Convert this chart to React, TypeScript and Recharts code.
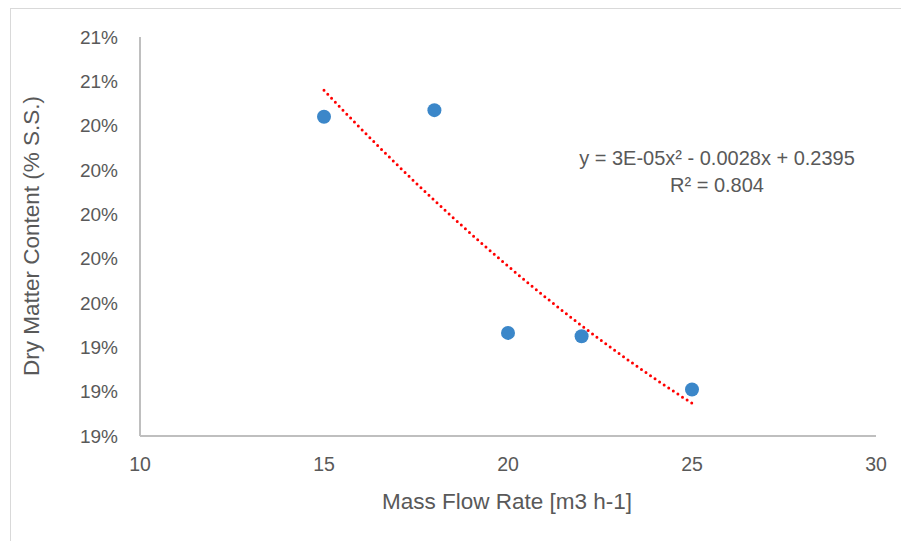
import React from 'react';
import { ComposedChart, Scatter, Line, XAxis, YAxis } from 'recharts';

const flowRates = [15, 18, 20, 22, 25];
const dryMatter = [0.2044, 0.2047, 0.19465, 0.1945, 0.1921];
const xTicks = [10, 15, 20, 25, 30];
const yTicks = [0.19, 0.192, 0.194, 0.196, 0.198, 0.2, 0.202, 0.204, 0.206, 0.208];

const points = flowRates.map((x, i) => ({ x, y: dryMatter[i] }));

// 2nd order least squares fit, like the Excel trendline
const fitPoly2 = (xs: number[], ys: number[]) => {
  const n = xs.length;
  const mx = xs.reduce((a, b) => a + b, 0) / n;
  const u = xs.map((x) => x - mx);
  const s2 = u.reduce((a, v) => a + v * v, 0);
  const s3 = u.reduce((a, v) => a + v * v * v, 0);
  const s4 = u.reduce((a, v) => a + v ** 4, 0);
  const sy = ys.reduce((a, b) => a + b, 0);
  const suy = u.reduce((a, v, i) => a + v * ys[i], 0);
  const su2y = u.reduce((a, v, i) => a + v * v * ys[i], 0);
  // solve 3x3 normal equations (s1 = 0)
  const M = [
    [n, 0, s2, sy],
    [0, s2, s3, suy],
    [s2, s3, s4, su2y],
  ];
  for (let c = 0; c < 3; c++) {
    for (let r = c + 1; r < 3; r++) {
      const f = M[r][c] / M[c][c];
      for (let k = c; k < 4; k++) M[r][k] -= f * M[c][k];
    }
  }
  const coef = [0, 0, 0];
  for (let r = 2; r >= 0; r--) {
    let s = M[r][3];
    for (let k = r + 1; k < 3; k++) s -= M[r][k] * coef[k];
    coef[r] = s / M[r][r];
  }
  return (x: number) => coef[0] + coef[1] * (x - mx) + coef[2] * (x - mx) ** 2;
};

const fit = fitPoly2(flowRates, dryMatter);
const trend: { x: number; y: number }[] = [];
for (let x = flowRates[0]; x <= flowRates[flowRates.length - 1] + 1e-9; x += 0.25) {
  trend.push({ x, y: fit(x) });
}

const font = '"Liberation Sans", Arial, sans-serif';
const textColor = '#595959';
const axisColor = '#bfbfbf';

export default function App() {
  return (
    <div
      style={{
        position: 'absolute',
        left: 0,
        top: 0,
        width: 901,
        height: 541,
        overflow: 'hidden',
        background: '#fff',
        fontFamily: font,
      }}
    >
      <div
        style={{
          position: 'absolute',
          left: 10,
          top: 8,
          width: 1000,
          height: 1000,
          border: '1.5px solid #d9d9d9',
        }}
      />
      <div style={{ position: 'absolute', left: 0, top: 0 }}>
        <ComposedChart
          width={901}
          height={541}
          margin={{ top: 37, right: 25, left: 0, bottom: 0 }}
        >
          <XAxis
            dataKey="x"
            type="number"
            domain={[10, 30]}
            ticks={xTicks}
            allowDataOverflow
            height={105}
            axisLine={{ stroke: axisColor, strokeWidth: 2 }}
            tickLine={false}
            tickMargin={15}
            tick={{ fill: textColor, fontSize: 19.5, fontFamily: font }}
          />
          <YAxis
            dataKey="y"
            type="number"
            domain={[0.19, 0.208]}
            ticks={yTicks}
            allowDataOverflow
            width={140}
            axisLine={{ stroke: axisColor, strokeWidth: 2 }}
            tickLine={false}
            tickMargin={16}
            tickFormatter={(v: number) => `${Math.round(v * 100)}%`}
            tick={{ fill: textColor, fontSize: 19, fontFamily: font }}
          />
          <Line
            data={trend}
            dataKey="y"
            type="monotone"
            stroke="#ff0000"
            strokeWidth={3}
            strokeDasharray="0 5.5"
            strokeLinecap="round"
            dot={false}
            activeDot={false}
            isAnimationActive={false}
          />
          <Scatter
            data={points}
            fill="#3b87c9"
            isAnimationActive={false}
            shape={(p: any) => <circle cx={p.cx} cy={p.cy} r={7} fill="#3b87c9" />}
          />
        </ComposedChart>
      </div>
      <div
        style={{
          position: 'absolute',
          left: 32,
          top: 236,
          transform: 'translate(-50%, -50%) rotate(-90deg)',
          whiteSpace: 'nowrap',
          fontSize: 22.5,
          color: textColor,
        }}
      >
        Dry Matter Content (% S.S.)
      </div>
      <div
        style={{
          position: 'absolute',
          left: 507,
          top: 502,
          transform: 'translate(-50%, -50%)',
          whiteSpace: 'nowrap',
          fontSize: 22.5,
          color: textColor,
        }}
      >
        Mass Flow Rate [m3 h-1]
      </div>
      <div
        style={{
          position: 'absolute',
          left: 717,
          top: 172,
          transform: 'translate(-50%, -50%)',
          whiteSpace: 'nowrap',
          fontSize: 20,
          lineHeight: '27px',
          color: textColor,
          textAlign: 'center',
        }}
      >
        y = 3E-05x² - 0.0028x + 0.2395
        <br />
        R² = 0.804
      </div>
    </div>
  );
}
